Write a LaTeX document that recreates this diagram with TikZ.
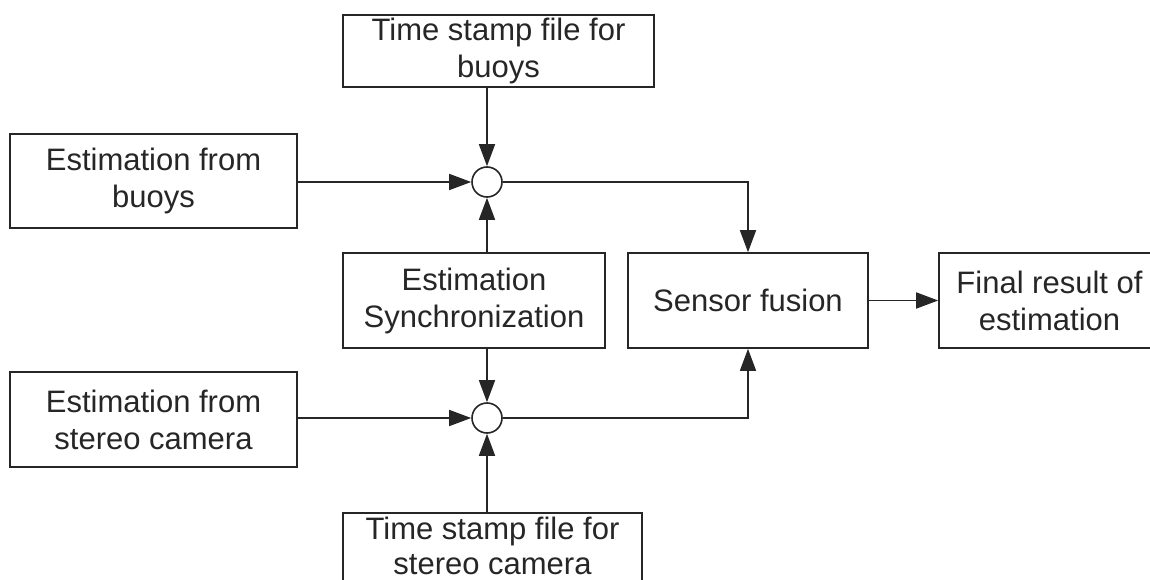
\documentclass[tikz,border=0pt]{standalone}
\usepackage{fontspec}
\setmainfont{Liberation Sans}
\usetikzlibrary{arrows.meta}
\definecolor{ink}{HTML}{262626}
\tikzset{
  box/.style={draw=ink, line width=1.6pt, rectangle, inner sep=0pt, align=center,
    text=ink, font=\fontsize{31}{37}\selectfont},
  label text/.style={inner sep=0pt, align=center, text=ink, font=\fontsize{31}{35}\selectfont},
  sum/.style={draw=ink, line width=1.6pt, circle, minimum size=30pt, inner sep=0pt, fill=white},
  arr/.style={draw=ink, line width=1.6pt, -{Triangle[length=22pt, width=16pt]}}
}
\begin{document}
\begin{tikzpicture}[x=1pt,y=-1pt]
\clip (0,0) rectangle (1150,580);
\fill[white] (0,0) rectangle (1150,580);
\node[box, minimum width=311pt, minimum height=72pt] (top) at (498.5,51) {Time stamp file for\\buoys};
\node[box, minimum width=287pt, minimum height=94pt] (buoys) at (153.5,181) {Estimation from\\buoys};
\node[box, minimum width=262pt, minimum height=95pt] (sync) at (474,300.5) {Estimation\\Synchronization};
\node[box, minimum width=240pt, minimum height=95pt] (fusion) at (748,300.5) {Sensor fusion};
\node[box, minimum width=221pt, minimum height=95pt] (final) at (1049.5,300.5) {Final result of\\estimation};
\node[box, minimum width=287pt, minimum height=95pt] (stereo) at (153.5,419.5) {Estimation from\\stereo camera};
\node[box, minimum width=299pt, minimum height=80pt] (bot) at (492.5,553) {};
\node[label text] (bottext) at (492.5,546) {Time stamp file for\\stereo camera};
\node[sum] (c1) at (487,182) {};
\node[sum] (c2) at (487,418) {};
\draw[arr] (c1 |- top.south) -- (c1.north);
\draw[arr] (buoys.east |- c1) -- (c1.west);
\draw[arr] (c1 |- sync.north) -- (c1.south);
\draw[arr] (c2 |- sync.south) -- (c2.north);
\draw[arr] (stereo.east |- c2) -- (c2.west);
\draw[arr] (c2 |- bot.north) -- (c2.south);
\draw[arr] (c1.east) -| (fusion.north);
\draw[arr] (c2.east) -| (fusion.south);
\draw[arr] (fusion.east) -- (final.west);
\end{tikzpicture}
\end{document}
